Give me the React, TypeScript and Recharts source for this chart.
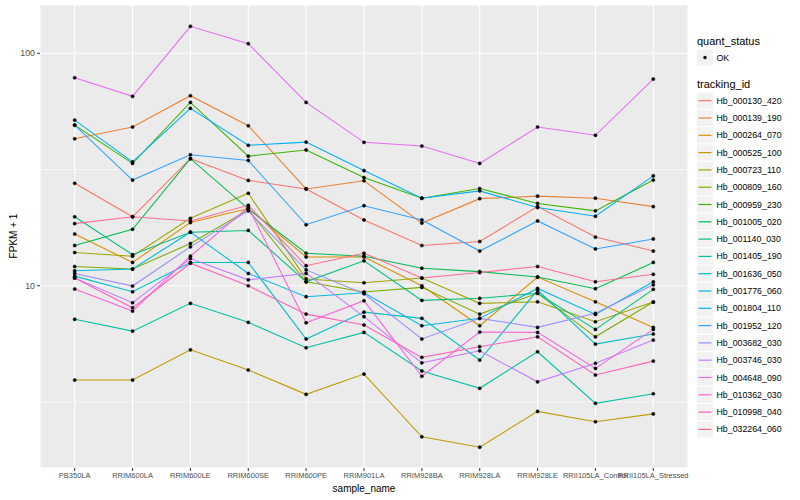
import React from 'react'
import { LineChart, Line, XAxis, YAxis, CartesianGrid, ReferenceLine } from 'recharts'

const samples = [
  'PB350LA', 'RRIM600LA', 'RRIM600LE', 'RRIM600SE', 'RRIM600PE', 'RRIM901LA',
  'RRIM928BA', 'RRIM928LA', 'RRIM928LE', 'RRII105LA_Control', 'RRII105LA_Stressed',
]

const trackingIds = [
  'Hb_000130_420', 'Hb_000139_190', 'Hb_000264_070', 'Hb_000525_100', 'Hb_000723_110',
  'Hb_000809_160', 'Hb_000959_230', 'Hb_001005_020', 'Hb_001140_030', 'Hb_001405_190',
  'Hb_001636_050', 'Hb_001776_060', 'Hb_001804_110', 'Hb_001952_120', 'Hb_003682_030',
  'Hb_003746_030', 'Hb_004648_090', 'Hb_010362_030', 'Hb_010998_040', 'Hb_032264_060',
]

// ggplot default hue palette, 20 levels
const colors = [
  '#F8766D', '#EA8331', '#D89000', '#C09B00', '#A3A500', '#7CAE00', '#39B600',
  '#00BB4E', '#00BF7D', '#00C1A3', '#00BFC4', '#00BAE0', '#00B0F6', '#35A2FF',
  '#9590FF', '#C77CFF', '#E76BF3', '#FA62DB', '#FF62BC', '#FF6C91',
]

// FPKM + 1 per sample
const hb000130_420 = [27.6, 19.8, 35.2, 28.4, 26.1, 19.2, 14.9, 15.5, 21.9, 16.2, 14.1]
const hb000139_190 = [42.9, 48.2, 65.7, 48.8, 26.1, 28.3, 18.6, 23.7, 24.3, 23.8, 21.9]
const hb000264_070 = [16.7, 12.6, 18.7, 21.5, 13.3, 13.3, 10.0, 6.73, 10.9, 8.53, 6.62]
const hb000525_100 = [3.93, 3.93, 5.3, 4.34, 3.41, 4.17, 2.24, 2.02, 2.88, 2.6, 2.81]
const hb000723_110 = [13.9, 13.4, 19.5, 25.0, 10.7, 10.3, 10.8, 8.4, 8.53, 7.0, 8.51]
const hb000809_160 = [12.1, 11.8, 15.2, 21.2, 10.4, 9.4, 9.84, 7.55, 9.28, 6.03, 8.51]
const hb000959_230 = [49.1, 33.6, 61.5, 36.1, 38.4, 29.2, 23.8, 26.2, 22.6, 21.0, 28.5]
const hb001005_020 = [14.9, 17.5, 35.2, 21.4, 13.8, 13.4, 11.9, 11.5, 10.9, 9.71, 12.6]
const hb001140_030 = [19.8, 13.6, 17.0, 17.3, 10.4, 12.8, 8.65, 8.83, 9.28, 6.49, 9.65]
const hb001405_190 = [7.17, 6.38, 8.4, 6.96, 5.41, 6.3, 4.3, 3.62, 5.2, 3.12, 3.43]
const hb001636_050 = [11.0, 9.42, 12.6, 12.6, 5.9, 7.7, 7.24, 4.79, 9.58, 5.61, 6.2]
const hb001776_060 = [11.6, 11.8, 17.0, 11.3, 8.97, 9.33, 6.73, 7.24, 9.74, 7.53, 10.4]
const hb001804_110 = [51.6, 34.1, 58.0, 40.2, 41.5, 31.3, 23.8, 25.6, 21.7, 19.9, 29.7]
const hb001952_120 = [49.1, 28.5, 36.6, 34.6, 18.3, 22.1, 19.2, 14.1, 19.0, 14.4, 15.9]
const hb003682_030 = [11.3, 9.97, 14.7, 21.0, 11.7, 9.24, 5.9, 7.24, 6.62, 7.61, 10.1]
const hb003746_030 = [10.8, 8.45, 13.1, 10.6, 11.3, 7.36, 4.66, 5.25, 3.86, 4.64, 5.84]
const hb004648_090 = [78.5, 65.3, 130.7, 110, 61.5, 41.4, 39.9, 33.6, 48.2, 44.4, 77.5]
const hb010362_030 = [9.68, 7.78, 13.4, 21.8, 6.93, 8.62, 4.08, 6.32, 6.3, 4.41, 6.49]
const hb010998_040 = [10.8, 8.04, 12.5, 10.0, 7.55, 6.78, 4.92, 5.47, 6.03, 4.13, 4.74]
const hb032264_060 = [18.5, 19.8, 19.0, 22.2, 12.2, 13.8, 10.8, 11.4, 12.1, 10.4, 11.2]

const series = [
  hb000130_420, hb000139_190, hb000264_070, hb000525_100, hb000723_110,
  hb000809_160, hb000959_230, hb001005_020, hb001140_030, hb001405_190,
  hb001636_050, hb001776_060, hb001804_110, hb001952_120, hb003682_030,
  hb003746_030, hb004648_090, hb010362_030, hb010998_040, hb032264_060,
]

const yTicks = [10, 100]
const yMinor = [3.162, 31.62]

const data = samples.map((sample, i) => {
  const row: Record<string, number | string> = { sample }
  trackingIds.forEach((id, j) => {
    row[id] = series[j][i]
  })
  return row
})

const font = '"Liberation Sans", Arial, Helvetica, sans-serif'

function Legend() {
  const rowH = 17.3
  const firstY = 100.7
  return (
    <svg width={110} height={500} style={{ position: 'absolute', left: 690, top: 0 }} fontFamily={font}>
      <text x={7} y={41} fontSize={11} dominantBaseline="central" fill="#000">quant_status</text>
      <rect x={7} y={49.5} width={16} height={16} fill="#F2F2F2" />
      <circle cx={15} cy={57.5} r={1.7} fill="#000" />
      <text x={26.5} y={57.5} fontSize={8.8} dominantBaseline="central" fill="#000">OK</text>
      <text x={7} y={84} fontSize={11} dominantBaseline="central" fill="#000">tracking_id</text>
      {trackingIds.map((id, i) => {
        const cy = firstY + i * rowH
        return (
          <g key={id}>
            <rect x={7} y={cy - 8.1} width={16} height={16.2} fill="#F2F2F2" />
            <line x1={8.5} x2={21.5} y1={cy} y2={cy} stroke={colors[i]} strokeWidth={1.2} />
            <text x={26.5} y={cy} fontSize={8.8} dominantBaseline="central" fill="#000">{id}</text>
          </g>
        )
      })}
    </svg>
  )
}

export default function App() {
  return (
    <div style={{ position: 'absolute', left: 0, top: 0, width: 800, height: 500, background: '#fff', fontFamily: font }}>
      <LineChart
        width={800}
        height={500}
        data={data}
        margin={{ top: 5, right: 112, bottom: 0, left: 0 }}
      >
        <CartesianGrid fill="#EBEBEB" stroke="#FFFFFF" strokeWidth={1.1} strokeDasharray="" />
        {yMinor.map((v) => (
          <ReferenceLine key={v} y={v} stroke="#FFFFFF" strokeWidth={0.55} />
        ))}
        <XAxis
          dataKey="sample"
          interval={0}
          padding={{ left: 34.7, right: 34.7 }}
          height={32}
          axisLine={false}
          tickSize={3}
          tickLine={{ stroke: '#333333' }}
          tick={{ fontSize: 7.5, fill: '#4D4D4D', fontFamily: font }}
        />
        <YAxis
          type="number"
          scale="log"
          domain={[1.644, 161.4]}
          allowDataOverflow
          ticks={yTicks}
          width={40}
          axisLine={false}
          tickSize={3}
          tickLine={{ stroke: '#333333' }}
          tick={{ fontSize: 8.8, fill: '#4D4D4D', fontFamily: font }}
        />
        {trackingIds.map((id, i) => (
          <Line
            key={id}
            dataKey={id}
            type="linear"
            stroke={colors[i]}
            strokeWidth={1.07}
            dot={false}
            activeDot={false}
            isAnimationActive={false}
          />
        ))}
        {trackingIds.map((id) => (
          <Line
            key={id + '_pts'}
            dataKey={id}
            type="linear"
            stroke="none"
            dot={{ r: 1.6, fill: '#000', stroke: '#000', strokeWidth: 0.5 }}
            activeDot={false}
            legendType="none"
            isAnimationActive={false}
          />
        ))}
      </LineChart>
      <div
        style={{
          position: 'absolute', left: 364, top: 488, transform: 'translate(-50%, -50%)',
          fontSize: 10, color: '#000', whiteSpace: 'nowrap',
        }}
      >
        sample_name
      </div>
      <div
        style={{
          position: 'absolute', left: 13, top: 236, transform: 'translate(-50%, -50%) rotate(-90deg)',
          fontSize: 10, color: '#000', whiteSpace: 'nowrap',
        }}
      >
        FPKM + 1
      </div>
      <Legend />
    </div>
  )
}
